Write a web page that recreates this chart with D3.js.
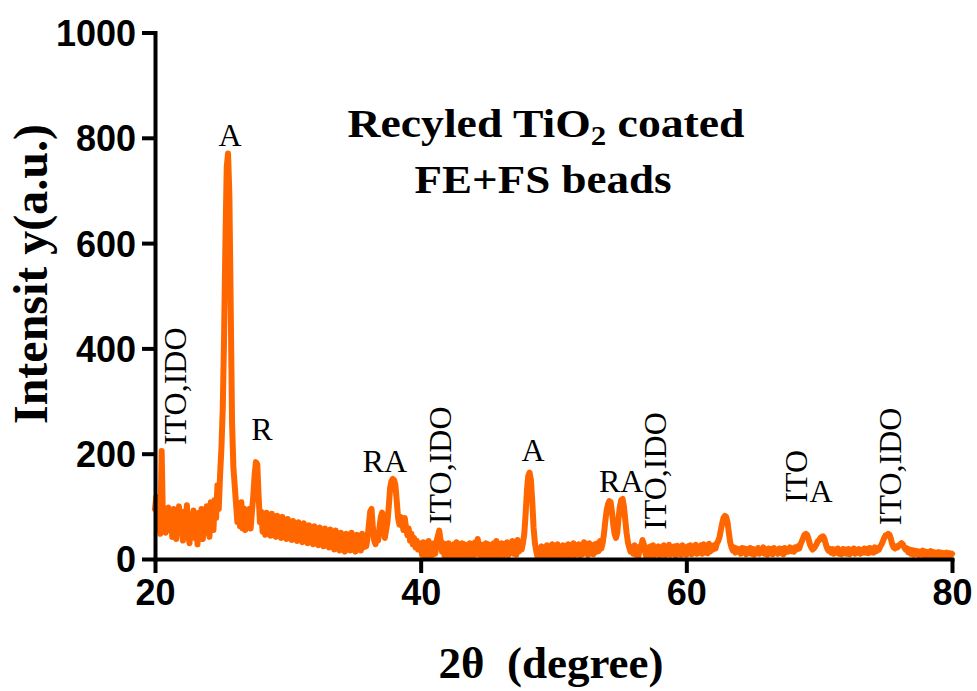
<!DOCTYPE html>
<html>
<head>
<meta charset="utf-8">
<script src="https://cdn.jsdelivr.net/npm/d3@7/dist/d3.min.js"></script>
<style>
  body { margin: 0; background: #fff; }
  svg { display: block; }
</style>
</head>
<body>
<svg id="chart" width="977" height="691"></svg>
<script>
// XRD scan: 2θ from 20° to 80° in 0.1° steps
const scanStart = 20;
const scanStep = 0.1;
const intensity = [
  95,118,62,85,48,205,70,92,50,78,
  98,55,88,42,95,65,38,82,100,55,
  72,35,90,60,102,45,30,85,58,92,
  40,70,28,88,55,95,38,75,50,100,
  62,42,108,70,55,112,78,140,95,160,
  210,285,420,600,745,770,690,480,260,175,
  140,105,70,100,62,108,58,96,55,92,
  62,95,58,90,120,160,184,180,120,70,
  90,52,84,46,88,58,80,44,86,50,
  78,42,82,48,74,40,80,46,70,38,
  76,44,68,36,72,40,66,34,70,38,
  64,32,68,38,60,30,64,36,58,28,
  62,34,56,26,60,30,52,24,58,28,
  52,22,56,28,48,18,54,26,46,16,
  50,22,44,14,48,20,42,16,50,18,
  40,14,46,20,42,16,48,22,44,24,
  40,65,90,95,60,35,28,45,35,60,
  80,88,62,40,55,70,100,135,148,152,
  150,140,110,78,65,80,72,55,78,60,
  45,58,35,48,28,40,22,35,18,30,
  28,8,32,6,30,10,34,5,28,8,
  30,10,34,44,54,36,14,30,6,28,
  4,30,10,26,3,28,8,32,5,26,
  10,30,4,28,8,24,4,30,9,26,
  6,32,12,38,8,28,5,26,10,30,
  4,28,8,26,3,30,10,34,6,26,
  9,30,5,28,11,32,7,26,12,34,
  10,30,8,36,14,32,18,30,48,85,
  130,158,164,150,110,60,30,15,4,20,
  6,24,3,22,8,26,5,22,10,28,
  5,24,8,28,4,22,9,26,6,24,
  9,28,5,25,10,30,7,26,11,28,
  6,26,9,32,11,28,7,30,12,26,
  9,28,13,30,15,34,20,30,48,72,
  92,104,110,108,90,65,48,40,50,78,
  100,112,114,100,75,50,32,22,14,22,
  10,26,8,22,6,24,22,36,28,12,
  4,22,6,24,8,26,7,22,10,24,
  6,22,10,26,7,23,9,27,8,22,
  10,24,6,25,11,23,8,26,10,22,
  8,24,11,26,9,23,12,27,10,24,
  12,26,10,28,13,25,11,29,14,26,
  18,26,20,30,34,42,55,68,78,82,
  80,70,50,32,22,16,22,12,20,14,
  18,10,21,13,20,9,19,12,21,10,
  19,8,18,11,21,10,17,12,22,10,
  18,8,20,12,19,9,21,13,18,10,
  20,12,19,9,21,13,19,14,22,15,
  20,14,22,18,24,20,28,34,40,46,
  48,46,38,28,22,18,20,24,28,34,
  36,40,42,43,38,28,20,16,19,12,
  19,10,18,12,20,10,17,9,19,11,
  18,10,19,9,17,12,20,10,18,12,
  19,10,17,12,20,12,19,11,21,13,
  20,12,22,15,20,18,24,28,34,40,
  45,46,48,46,38,28,22,20,24,22,
  26,28,30,28,22,18,20,13,18,10,
  17,8,16,10,15,7,14,9,16,7,
  14,7,13,8,15,6,13,6,12,7,
  13,6,12,7,11,5,12,6,11,7,
  10
];

const xTicks = [20, 40, 60, 80];
const yTicks = [0, 200, 400, 600, 800, 1000];

// Phase labels: A = anatase, R = rutile, ITO/IDO = substrate
const phaseLabels = [
  { text: "ITO,IDO", angle: 21.5,  level: 328, vertical: true },
  { text: "A",       angle: 25.65, level: 784 },
  { text: "R",       angle: 28.05, level: 226 },
  { text: "RA",      angle: 37.3,  level: 165 },
  { text: "ITO,IDO", angle: 41.45, level: 178, vertical: true },
  { text: "A",       angle: 48.46, level: 186 },
  { text: "RA",      angle: 55.1,  level: 127 },
  { text: "ITO,IDO", angle: 57.64, level: 167, vertical: true },
  { text: "ITO",     angle: 68.26, level: 157, vertical: true },
  { text: "A",       angle: 70.14, level: 108 },
  { text: "ITO,IDO", angle: 75.33, level: 176, vertical: true }
];

const svg = d3.select("#chart");
const plot = { left: 155, right: 952, top: 32.5, bottom: 559 };

const x = d3.scaleLinear().domain([20, 80]).range([plot.left, plot.right]);
const y = d3.scaleLinear().domain([0, 1000]).range([plot.bottom, plot.top]);

const points = intensity.map((v, i) => [scanStart + i * scanStep, v]);

// diffraction pattern
svg.append("path")
  .datum(points)
  .attr("fill", "none")
  .attr("stroke", "#ff6600")
  .attr("stroke-width", 6)
  .attr("stroke-linejoin", "round")
  .attr("stroke-linecap", "round")
  .attr("d", d3.line().x(d => x(d[0])).y(d => y(d[1])));

// axes
const tickFont = "'Liberation Sans', Arial, sans-serif";

const xAxis = svg.append("g")
  .attr("transform", `translate(0,${plot.bottom})`)
  .call(d3.axisBottom(x).tickValues(xTicks).tickSizeOuter(0).tickSizeInner(14).tickPadding(6).tickFormat(d3.format("d")));

const yAxis = svg.append("g")
  .attr("transform", `translate(${plot.left},0)`)
  .call(d3.axisLeft(y).tickValues(yTicks).tickSizeOuter(0).tickSizeInner(13).tickPadding(6).tickFormat(d3.format("d")));

[xAxis, yAxis].forEach(g => {
  g.select(".domain").attr("stroke", "#000").attr("stroke-width", 4).attr("stroke-linecap", "square");
  g.selectAll(".tick line").attr("stroke", "#000").attr("stroke-width", 4);
  g.selectAll(".tick text")
    .attr("fill", "#000")
    .style("font-family", tickFont)
    .style("font-weight", "bold")
    .style("font-size", "36px");
});
yAxis.selectAll(".tick text").attr("dy", "0.36em");

// axis titles
const serif = "'Liberation Serif', 'Times New Roman', serif";

svg.append("text")
  .attr("x", 551).attr("y", 678)
  .attr("text-anchor", "middle")
  .style("white-space", "pre")
  .style("font-family", serif).style("font-weight", "bold").style("font-size", "45px")
  .text("2θ  (degree)");

const yTitle = svg.append("text")
  .attr("transform", "translate(47,274) rotate(-90)")
  .attr("text-anchor", "middle")
  .style("font-family", serif).style("font-weight", "bold").style("font-size", "48px");
yTitle.append("tspan").text("Intensit");
yTitle.append("tspan").attr("dx", 12).text("y(a.u.)");

// sample title
const title = svg.append("text")
  .attr("x", 546).attr("y", 137)
  .attr("text-anchor", "middle")
  .attr("textLength", 397)
  .attr("lengthAdjust", "spacingAndGlyphs")
  .style("font-family", serif).style("font-weight", "bold").style("font-size", "40px");
title.append("tspan").text("Recyled TiO");
title.append("tspan").attr("dy", 8).style("font-size", "27px").text("2");
title.append("tspan").attr("dy", -8).text(" coated");

svg.append("text")
  .attr("x", 543).attr("y", 193)
  .attr("text-anchor", "middle")
  .attr("textLength", 257)
  .attr("lengthAdjust", "spacingAndGlyphs")
  .style("font-family", serif).style("font-weight", "bold").style("font-size", "40px")
  .text("FE+FS beads");

// peak labels
phaseLabels.forEach(p => {
  const t = svg.append("text")
    .attr("fill", "#000")
    .style("font-family", serif)
    .style("font-size", "32px")
    .text(p.text);
  if (p.vertical) {
    t.attr("text-anchor", "middle")
      .attr("dominant-baseline", "central")
      .attr("transform", `translate(${x(p.angle)},${y(p.level)}) rotate(-90)`);
  } else {
    t.attr("text-anchor", "middle")
      .attr("x", x(p.angle))
      .attr("y", y(p.level));
  }
});
</script>
</body>
</html>
